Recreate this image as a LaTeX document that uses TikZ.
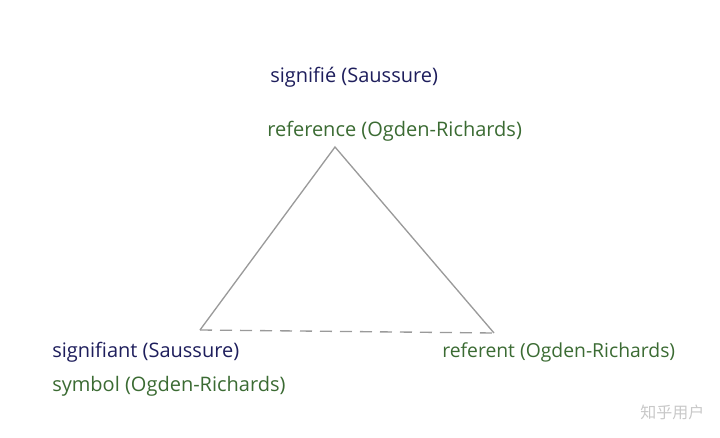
\documentclass[tikz,border=0pt]{standalone}
\usepackage{fontspec}
\setmainfont{Open Sans}
\newfontfamily\cjkfont{Noto Sans CJK SC}
\definecolor{navy}{HTML}{1E1E5C}
\definecolor{ogreen}{HTML}{3B6B33}
\definecolor{edgegray}{HTML}{9A9A9A}
\definecolor{wmgray}{HTML}{C8C8C8}
\begin{document}
\begin{tikzpicture}[x=0.75pt,y=-0.75pt,
  lab/.style={inner sep=0pt,anchor=west,font=\fontsize{15pt}{17pt}\selectfont},
  saus/.style={lab,text=navy},
  ogden/.style={lab,text=ogreen},
  edge/.style={draw=edgegray,line width=1pt},
  dashedge/.style={draw=edgegray,line width=1pt,dash pattern=on 9pt off 6pt}]
\useasboundingbox (0,0) rectangle (720,438);
\coordinate (top) at (335,147);
\coordinate (left) at (200,330);
\coordinate (right) at (494,333);
\draw[edge] (left) -- (top) -- (right);
\draw[dashedge] (left) -- (right);
\node[saus] (sigfie) at (270,77) {signifié (Saussure)};
\node[ogden] (refce) at (267,131) {reference (Ogden-Richards)};
\node[saus] (sigfiant) at (52,352) {signifiant (Saussure)};
\node[ogden] (symb) at (52,386) {symbol (Ogden-Richards)};
\node[ogden,font=\fontsize{14.5pt}{17pt}\selectfont] (refent) at (442,352) {referent (Ogden-Richards)};
\node[inner sep=0pt,anchor=west,text=wmgray,font=\cjkfont\fontsize{12pt}{14pt}\selectfont] (wm) at (640,412) {知乎用户};
\end{tikzpicture}
\end{document}
